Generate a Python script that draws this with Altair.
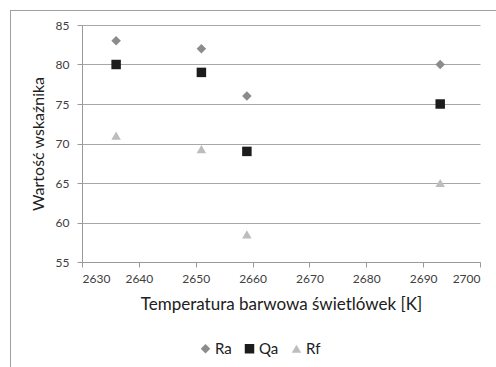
import altair as alt
import pandas as pd

# Colour temperature of each fluorescent lamp [K]
temperatures = [2636, 2651, 2659, 2693]

# Index values per lamp
ra_values = [83, 82, 76, 80]
qa_values = [80, 79, 69, 75]
rf_values = [71, 69.3, 58.5, 65]

series_names = ["Ra", "Qa", "Rf"]
series_colors = ["#8c8c8c", "#1c1c1c", "#bdbdbd"]
series_shapes = ["diamond", "square", "triangle-up"]

rows = []
for name, vals in zip(series_names, [ra_values, qa_values, rf_values]):
    for t, v in zip(temperatures, vals):
        rows.append({"temp": t, "value": v, "series": name})
df = pd.DataFrame(rows)

FONT = "Lato"
W, H = 398, 237
PAD_L, PAD_T = 82, 25
PAD_R, PAD_B = 496 - PAD_L - W, 367 - PAD_T - H

points = alt.Chart(df).mark_point(filled=True, opacity=1, size=90).encode(
    x=alt.X("temp:Q", title="Temperatura barwowa świetlówek [K]",
            scale=alt.Scale(domain=[2630, 2700], nice=False, zero=False),
            axis=alt.Axis(values=list(range(2630, 2701, 10)), grid=False, format="d",
                          tickSize=5, labelPadding=6, titlePadding=12, titleFontSize=17)),
    y=alt.Y("value:Q", title="Wartość wskaźnika",
            scale=alt.Scale(domain=[55, 85], nice=False, zero=False),
            axis=alt.Axis(values=list(range(55, 86, 5)), grid=True,
                          tickSize=5, labelPadding=8, titlePadding=9, titleFontSize=16)),
    color=alt.Color("series:N",
                    scale=alt.Scale(domain=series_names, range=series_colors),
                    legend=alt.Legend(title=None, orient="none", direction="horizontal",
                                      legendX=116, legendY=316, symbolSize=90,
                                      labelFontSize=15, symbolStrokeWidth=0,
                                      columnPadding=10, labelOffset=2)),
    shape=alt.Shape("series:N",
                    scale=alt.Scale(domain=series_names, range=series_shapes),
                    legend=None),
)

# Outer frame (top and left edges)
frame_top = alt.Chart(pd.DataFrame({"k": [0]})).mark_rule(color="#a0a0a0", strokeWidth=1).encode(
    x=alt.value(10 - PAD_L), x2=alt.value(496 - PAD_L), y=alt.value(10.5 - PAD_T)
)
frame_left = alt.Chart(pd.DataFrame({"k": [0]})).mark_rule(color="#a0a0a0", strokeWidth=1).encode(
    x=alt.value(10.5 - PAD_L), y=alt.value(10 - PAD_T), y2=alt.value(367 - PAD_T)
)

chart = alt.layer(points, frame_top, frame_left).properties(
    width=W, height=H,
    autosize=alt.AutoSizeParams(type="none"),
    padding={"left": PAD_L, "top": PAD_T, "right": PAD_R, "bottom": PAD_B},
).configure_view(stroke=None).configure_axis(
    labelFont=FONT, titleFont=FONT, labelFontSize=12,
    labelColor="#404040", titleColor="#202020", titleFontWeight="normal",
    domainColor="#9a9a9a", tickColor="#9a9a9a", gridColor="#a8a8a8",
).configure_legend(
    labelFont=FONT, labelColor="#202020"
)

chart.save("out.html", embed_options={"renderer": "svg", "actions": False})
